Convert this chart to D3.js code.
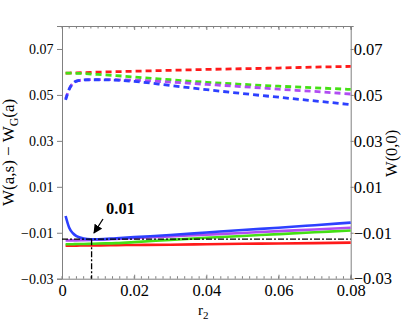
<!DOCTYPE html>
<html>
<head>
<meta charset="utf-8">
<script src="https://cdn.jsdelivr.net/npm/d3@7.9.0/dist/d3.min.js"></script>
<style>
  body { margin: 0; background: #fff; }
  svg { display: block; font-family: "Liberation Serif", "Times New Roman", serif; }
  .axis path, .axis line { stroke: #808080; }
  .axis text { fill: #000; font-family: "Liberation Serif", "Times New Roman", serif; }
  .ax-left text { font-size: 14px; }
  .ax-bottom text, .ax-right text { font-size: 16.5px; }
</style>
</head>
<body>
<svg id="chart" width="408" height="332"></svg>
<script>
// ====== DATA ======
const r2 = [0.001, 0.002, 0.003, 0.004, 0.006, 0.008, 0.01, 0.015, 0.02, 0.03, 0.04, 0.05, 0.06, 0.07, 0.08];

// solid lines: W(a,s) - W_G(a)
const solidRed    = [-0.0156, -0.0156, -0.0156, -0.0156, -0.0155, -0.0155, -0.0155, -0.0154, -0.0153, -0.0152, -0.0150, -0.0148, -0.0147, -0.0145, -0.0143];
const solidGreen  = [-0.0150, -0.0150, -0.0150, -0.0149, -0.0149, -0.0148, -0.0147, -0.0145, -0.0141, -0.0131, -0.0122, -0.0114, -0.0106, -0.0098, -0.0090];
const solidPurple = [-0.0133, -0.0133, -0.0133, -0.0133, -0.0132, -0.0131, -0.0130, -0.0127, -0.0123, -0.0116, -0.0108, -0.0101, -0.0093, -0.0086, -0.0078];
const solidBlue   = [-0.0027, -0.0078, -0.0102, -0.0115, -0.0125, -0.0128, -0.0128, -0.0124, -0.0119, -0.0110, -0.0099, -0.0088, -0.0078, -0.0067, -0.0056];

// dashed lines: W(0,0)
const dashRed    = [0.0595, 0.0595, 0.0596, 0.0596, 0.0597, 0.0598, 0.0599, 0.0601, 0.0603, 0.0607, 0.0611, 0.0614, 0.0617, 0.0621, 0.0624];
const dashGreen  = [0.0595, 0.0595, 0.0594, 0.0594, 0.0593, 0.0591, 0.0589, 0.0584, 0.0578, 0.0566, 0.0555, 0.0546, 0.0538, 0.0531, 0.0524];
const dashPurple = [0.0483, 0.0525, 0.0550, 0.0560, 0.0565, 0.0567, 0.0567, 0.0566, 0.0564, 0.0556, 0.0546, 0.0536, 0.0525, 0.0515, 0.0504];
const dashBlue   = [0.0478, 0.0525, 0.0550, 0.0560, 0.0565, 0.0566, 0.0566, 0.0564, 0.0559, 0.0541, 0.0523, 0.0506, 0.0490, 0.0474, 0.0458];

// reference marks
const markR = 0.0082;
const markW = -0.0128;
const markLabel = "0.01";

const xTicks = [0, 0.02, 0.04, 0.06, 0.08];
const yTicks = [-0.03, -0.01, 0.01, 0.03, 0.05, 0.07];

// ====== LAYOUT ======
const svg = d3.select("#chart");
const padL = 62, padR = 350.7, padT = 26, padB = 278.7;

const x = d3.scaleLinear().domain([0, 0.08]).range([padL, padR]);
const y = d3.scaleLinear().domain([-0.03, 0.08]).range([padB, padT]);

const fmt = d3.format(".2f");
const xFmt = d => d === 0 ? "0" : fmt(d);

// minor ticks on top and bottom
const minor = d3.range(0, 0.0801, 0.002);
svg.append("g").selectAll("line").data(minor).join("line")
  .attr("x1", d => x(d)).attr("x2", d => x(d))
  .attr("y1", padB).attr("y2", padB - 2.5)
  .attr("stroke", "#808080");
svg.append("g").selectAll("line").data(minor).join("line")
  .attr("x1", d => x(d)).attr("x2", d => x(d))
  .attr("y1", padT).attr("y2", padT + 2.5)
  .attr("stroke", "#808080");

// ====== AXES ======
svg.append("g").attr("class", "axis ax-bottom")
  .attr("transform", `translate(0,${padB})`)
  .call(d3.axisBottom(x).tickValues(xTicks).tickSize(-4).tickPadding(6).tickFormat(xFmt));

svg.append("g").attr("class", "axis")
  .attr("transform", `translate(0,${padT})`)
  .call(d3.axisTop(x).tickValues(xTicks).tickSize(-4).tickFormat(""));

svg.append("g").attr("class", "axis ax-left")
  .attr("transform", `translate(${padL},0)`)
  .call(d3.axisLeft(y).tickValues(yTicks).tickSize(5).tickPadding(3.5).tickFormat(fmt));

svg.append("g").attr("class", "axis ax-right")
  .attr("transform", `translate(${padR},0)`)
  .call(d3.axisRight(y).tickValues(yTicks).tickSize(3).tickPadding(0).tickFormat(fmt));

svg.selectAll(".axis .domain").attr("stroke", "#808080");

// ====== LINES ======
const line = d3.line()
  .x((d, i) => x(r2[i]))
  .y(d => y(d))
  .curve(d3.curveMonotoneX);

const dashed = [
  [dashRed, "#ff1a1a"],
  [dashGreen, "#44e014"],
  [dashPurple, "#b04cf2"],
  [dashBlue, "#2d40ff"]
];
dashed.forEach(([vals, c]) => {
  svg.append("path")
    .attr("d", line(vals))
    .attr("fill", "none")
    .attr("stroke", c)
    .attr("stroke-width", 2.8)
    .attr("stroke-dasharray", "6,4");
});

const solid = [
  [solidRed, "#ff1a1a"],
  [solidGreen, "#44e014"],
  [solidPurple, "#b04cf2"],
  [solidBlue, "#2d40ff"]
];
solid.forEach(([vals, c]) => {
  svg.append("path")
    .attr("d", line(vals))
    .attr("fill", "none")
    .attr("stroke", c)
    .attr("stroke-width", 2.6);
});

// dash-dot reference lines
svg.append("line")
  .attr("x1", x(0)).attr("x2", x(0.08))
  .attr("y1", y(markW)).attr("y2", y(markW))
  .attr("stroke", "#000").attr("stroke-width", 1.3)
  .attr("stroke-dasharray", "6,2,2,2");
svg.append("line")
  .attr("x1", x(markR)).attr("x2", x(markR))
  .attr("y1", y(markW)).attr("y2", padB)
  .attr("stroke", "#000").attr("stroke-width", 1.3)
  .attr("stroke-dasharray", "6,2,2,2");

// ====== ANNOTATION ======
svg.append("defs").append("marker")
  .attr("id", "head")
  .attr("viewBox", "0 0 10 10")
  .attr("refX", 9).attr("refY", 5)
  .attr("markerWidth", 7).attr("markerHeight", 7)
  .attr("orient", "auto")
  .append("path").attr("d", "M0,0L10,5L0,10Z").attr("fill", "#000");

svg.append("line")
  .attr("x1", 103).attr("y1", 219)
  .attr("x2", 94).attr("y2", 233)
  .attr("stroke", "#000").attr("stroke-width", 1.3)
  .attr("marker-end", "url(#head)");

svg.append("text")
  .attr("x", 106).attr("y", 213.5)
  .attr("font-size", 16.5).attr("font-weight", "bold")
  .text(markLabel);

// ====== LABELS ======
const yl = svg.append("text")
  .attr("transform", `translate(14,${(padT + padB) / 2}) rotate(-90)`)
  .attr("text-anchor", "middle")
  .attr("font-size", 17);
yl.append("tspan").text("W(a,s) \u2212 W");
yl.append("tspan").attr("font-size", 12).attr("dy", 4).text("G");
yl.append("tspan").attr("dy", -4).text("(a)");

svg.append("text")
  .attr("transform", `translate(397,${(padT + padB) / 2 + 1}) rotate(-90)`)
  .attr("text-anchor", "middle")
  .attr("font-size", 16.5)
  .text("W(0,0)");

const xl = svg.append("text")
  .attr("x", x(0.04) - 3).attr("y", 315)
  .attr("text-anchor", "middle")
  .attr("font-size", 15);
xl.append("tspan").text("r");
xl.append("tspan").attr("font-size", 11).attr("dy", 4).text("2");
</script>
</body>
</html>
